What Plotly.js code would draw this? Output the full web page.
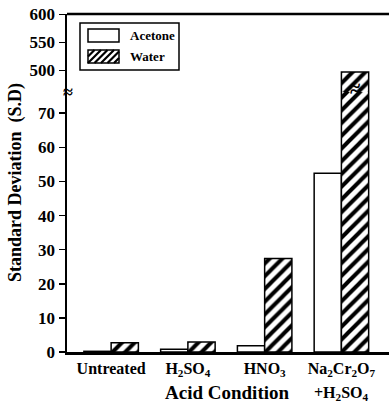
<!DOCTYPE html>
<html><head><meta charset="utf-8">
<script src="https://cdn.plot.ly/plotly-3.0.1.min.js"></script>
<style>html,body{margin:0;padding:0;background:#fff;}#chart{width:389px;height:405px;}</style>
</head><body><div id="chart"></div>
<script>
const categories = ['Untreated', 'H<sub>2</sub>SO<sub>4</sub>', 'HNO<sub>3</sub>', 'Na<sub>2</sub>Cr<sub>2</sub>O<sub>7</sub>'];
const categorySecondLine = ['', '', '', '+H<sub>2</sub>SO<sub>4</sub>'];
const seriesNames = ['Acetone', 'Water'];
const acetone = [0.2, 0.8, 1.8, 52.4];
const water = [2.7, 2.9, 27.4, 497];
const lowerTicks = [0, 10, 20, 30, 40, 50, 60, 70];
const upperTicks = [500, 550, 600];

const FAM = 'Liberation Serif, Times New Roman, serif';
const idx = categories.map((c, i) => i);

// plot area geometry (pixels)
const L = 67, R = 389, T = 14, B = 352, W = 405;
const px = x => (x - L) / (R - L);
const py = y => (B - y) / (B - T);

function barTrace(name, vals, pattern, xa, ya) {
  return {
    type: 'bar', name: name, x: idx, y: vals, xaxis: xa, yaxis: ya,
    showlegend: false,
    marker: {color: '#fff', line: {color: '#000', width: 1.5}, pattern: pattern},
    hoverinfo: 'skip'
  };
}
const hatch = {shape: '/', fgcolor: '#000', bgcolor: '#fff', size: 9, solidity: 0.45};
const data = [
  barTrace(seriesNames[0], acetone, {shape: ''}, 'x', 'y'),
  barTrace(seriesNames[1], water, hatch, 'x', 'y'),
  barTrace(seriesNames[0], acetone, {shape: ''}, 'x2', 'y2'),
  barTrace(seriesNames[1], water, hatch, 'x2', 'y2')
];

// legend drawn manually (decoration)
function rectShape(x0, y0, x1, y1, w) {
  return {type: 'rect', xref: 'paper', yref: 'paper', x0: px(x0), x1: px(x1), y0: py(y1), y1: py(y0),
    line: {color: '#000', width: w}, fillcolor: '#fff', layer: 'above'};
}
function hatchPath(x0, y0, x1, y1, s) {
  let d = '';
  const h = y1 - y0;
  for (let c = x0 - h; c < x1; c += s) {
    // line from (c, y1) to (c+h, y0), clip to [x0,x1]
    let ax = c, ay = y1, bx = c + h, by = y0;
    if (ax < x0) { ay -= (x0 - ax); ax = x0; }
    if (bx > x1) { by += (bx - x1); bx = x1; }
    if (bx - ax < 0.5) continue;
    d += `M${px(ax)},${py(ay)}L${px(bx)},${py(by)}`;
  }
  return {type: 'path', xref: 'paper', yref: 'paper', path: d, line: {color: '#000', width: 2.2}, layer: 'above'};
}

const split = 0.769;
const tickFont = {family: FAM, size: 17, weight: 'bold', color: '#000'};
const layout = {
  width: 389, height: 405,
  margin: {l: L, r: 0, t: T, b: W - B},
  paper_bgcolor: '#fff', plot_bgcolor: '#fff',
  barmode: 'group', bargap: 0.29, bargroupgap: 0,
  font: {family: FAM, color: '#000'},
  showlegend: false,
  xaxis: {
    domain: [0, 1], anchor: 'y', range: [-0.575, 3.62],
    tickmode: 'array', tickvals: idx, ticktext: categories,
    showline: true, linecolor: '#000', linewidth: 2.5,
    ticks: '', showgrid: false, zeroline: false,
    tickfont: {family: FAM, size: 16, weight: 'bold', color: '#000'}
  },
  xaxis2: {
    domain: [0, 1], anchor: 'y2', matches: 'x', range: [-0.575, 3.62],
    showticklabels: false, ticks: '', showgrid: false, zeroline: false, showline: false
  },
  yaxis: {
    domain: [0, split], anchor: 'x', range: [0, 76.2],
    tickmode: 'array', tickvals: lowerTicks,
    ticks: 'outside', ticklen: 6, tickwidth: 1.5, tickcolor: '#000',
    showline: true, linecolor: '#000', linewidth: 2.5,
    showgrid: false, zeroline: false, tickfont: tickFont
  },
  yaxis2: {
    domain: [split, 1], anchor: 'x2', range: [461, 600.5],
    tickmode: 'array', tickvals: upperTicks,
    ticks: 'outside', ticklen: 6, tickwidth: 1.5, tickcolor: '#000',
    showline: true, linecolor: '#000', linewidth: 2.5,
    showgrid: false, zeroline: false, tickfont: tickFont
  },
  shapes: [
    {type: 'line', xref: 'paper', yref: 'paper', x0: 0, x1: 1, y0: 1, y1: 1, line: {color: '#000', width: 2.5}},
    rectShape(80, 23, 179, 70, 1.5),
    rectShape(88, 29, 119, 42, 1.5),
    rectShape(88, 50, 119, 63, 1.5),
    hatchPath(88, 50, 119, 63, 6.5)
  ],
  annotations: [
    {text: '<b>Standard Deviation  (S.D)</b>', xref: 'paper', yref: 'paper',
     x: px(15), y: 0.5, xanchor: 'center', yanchor: 'middle', textangle: -90, showarrow: false,
     font: {family: FAM, size: 18, color: '#000'}},
    {text: '<b>Acid Condition</b>', xref: 'paper', yref: 'paper',
     x: px(227), y: py(392), xanchor: 'center', yanchor: 'middle', showarrow: false,
     font: {family: FAM, size: 19, color: '#000'}},
    {text: '<b>' + categorySecondLine[3] + '</b>', xref: 'x', yref: 'paper',
     x: 3, y: py(393), xanchor: 'center', yanchor: 'middle', showarrow: false,
     font: {family: FAM, size: 16, color: '#000'}},
    {text: '<b>' + seriesNames[0] + '</b>', xref: 'paper', yref: 'paper',
     x: px(128), y: py(35.5), xanchor: 'left', yanchor: 'middle', showarrow: false,
     font: {family: FAM, size: 13, color: '#000'}},
    {text: '<b>' + seriesNames[1] + '</b>', xref: 'paper', yref: 'paper',
     x: px(128), y: py(56.5), xanchor: 'left', yanchor: 'middle', showarrow: false,
     font: {family: FAM, size: 13, color: '#000'}},
    {text: '<b>≈</b>', xref: 'paper', yref: 'paper', x: 0, y: split, xshift: 1,
     showarrow: false, xanchor: 'center', yanchor: 'middle',
     font: {family: FAM, size: 18, color: '#000'}},
    {text: '<b>≈</b>', xref: 'x', yref: 'paper', x: 3, y: split + 0.012, xshift: 13.5,
     textangle: -10, showarrow: false, xanchor: 'center', yanchor: 'middle',
     font: {family: FAM, size: 22, color: '#000'}}
  ]
};
Plotly.newPlot('chart', data, layout, {displayModeBar: false, staticPlot: true});
</script></body></html>
